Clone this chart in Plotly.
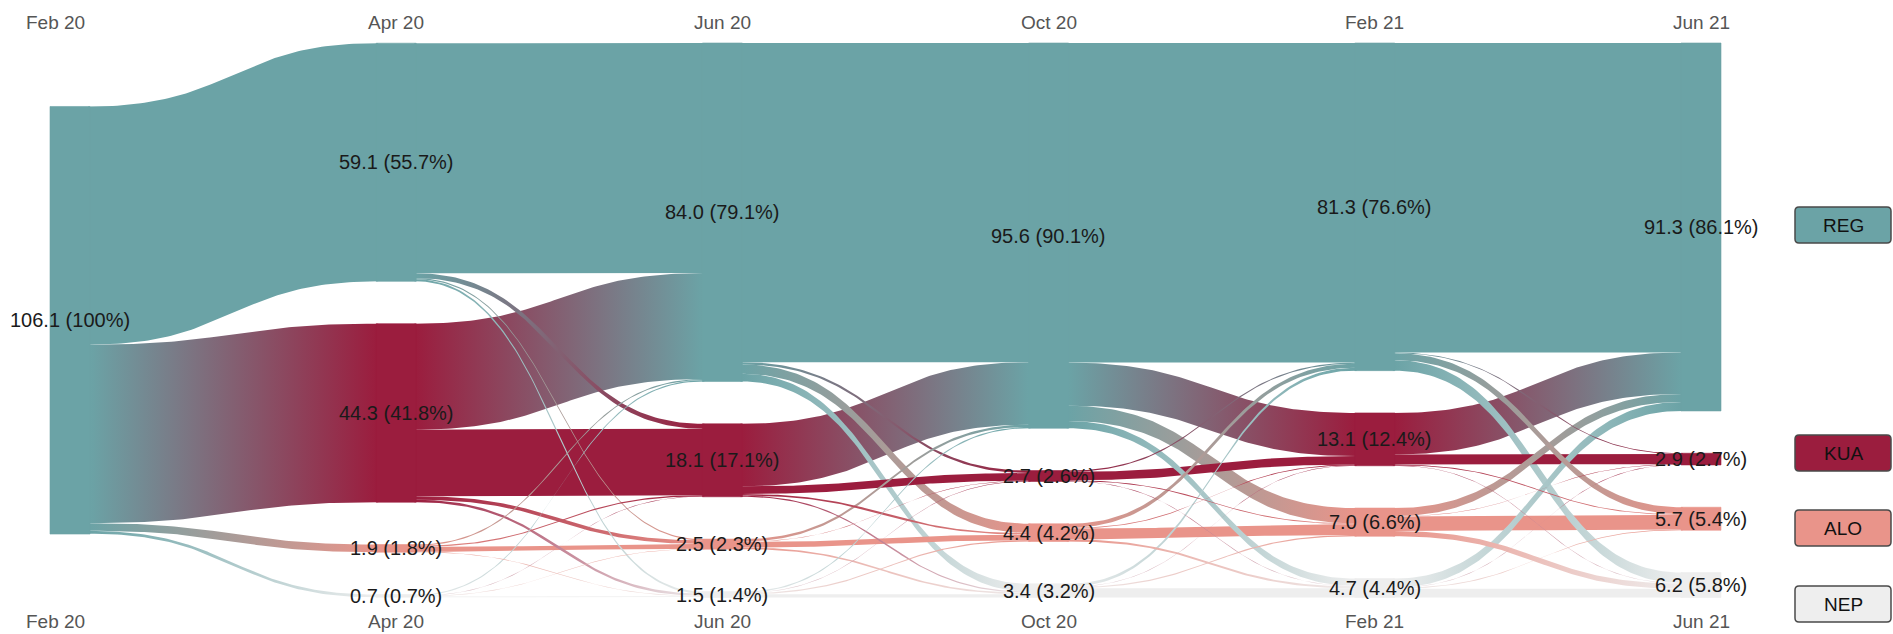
import plotly.graph_objects as go
import numpy as np

# ---------------- data ----------------
periods = ["Feb 20", "Apr 20", "Jun 20", "Oct 20", "Feb 21", "Jun 21"]
states = ["REG", "KUA", "ALO", "NEP"]
state_colors = ["#6BA3A6", "#9B1D3E", "#E9948A", "#EEEEEE"]

# node values per period (REG, KUA, ALO, NEP)
vals_feb20 = [106.1, 0.0, 0.0, 0.0]
vals_apr20 = [59.1, 44.3, 1.9, 0.7]
vals_jun20 = [84.0, 18.1, 2.5, 1.5]
vals_oct20 = [95.6, 2.7, 4.4, 3.4]
vals_feb21 = [81.3, 13.1, 7.0, 4.7]
vals_jun21 = [91.3, 2.9, 5.7, 6.2]

# percent labels per period
pct_feb20 = ["100", "", "", ""]
pct_apr20 = ["55.7", "41.8", "1.8", "0.7"]
pct_jun20 = ["79.1", "17.1", "2.3", "1.4"]
pct_oct20 = ["90.1", "2.6", "4.2", "3.2"]
pct_feb21 = ["76.6", "12.4", "6.6", "4.4"]
pct_jun21 = ["86.1", "2.7", "5.4", "5.8"]

# transitions: rows = source state, cols = target state (REG, KUA, ALO, NEP)
flow_feb20_apr20 = [[59.1, 44.3, 1.9, 0.7],
                    [0.0, 0.0, 0.0, 0.0],
                    [0.0, 0.0, 0.0, 0.0],
                    [0.0, 0.0, 0.0, 0.0]]
flow_apr20_jun20 = [[57.1, 1.2, 0.3, 0.5],
                    [26.3, 16.5, 0.9, 0.6],
                    [0.3, 0.3, 1.2, 0.1],
                    [0.3, 0.1, 0.1, 0.2]]
flow_jun20_oct20 = [[79.2, 0.6, 2.3, 1.9],
                    [15.5, 1.9, 0.4, 0.3],
                    [0.6, 0.1, 1.4, 0.4],
                    [0.3, 0.1, 0.3, 0.8]]
flow_oct20_feb21 = [[79.3, 10.7, 3.8, 1.8],
                    [0.3, 2.1, 0.2, 0.1],
                    [1.0, 0.2, 2.7, 0.5],
                    [0.7, 0.1, 0.3, 2.3]]
flow_feb21_jun21 = [[76.8, 0.2, 1.7, 2.6],
                    [10.3, 2.5, 0.2, 0.1],
                    [2.0, 0.1, 3.6, 1.3],
                    [2.2, 0.1, 0.2, 2.2]]

node_vals = [vals_feb20, vals_apr20, vals_jun20, vals_oct20, vals_feb21, vals_jun21]
node_pcts = [pct_feb20, pct_apr20, pct_jun20, pct_oct20, pct_feb21, pct_jun21]
flows = [flow_feb20_apr20, flow_apr20_jun20, flow_jun20_oct20, flow_oct20_feb21, flow_feb21_jun21]

# ---------------- layout constants (style) ----------------
W, H = 1893, 634
col_spacing_px = 326.2
first_col_px = 70
node_w_px = 40
top_px = 43
px_per_unit = 4.03
gap_units = 10.5

hw = node_w_px / 2 / col_spacing_px
eps = 2 / col_spacing_px
x_range = [-first_col_px / col_spacing_px, (W - first_col_px) / col_spacing_px]
y_range = [(H - top_px) / px_per_unit, -top_px / px_per_unit]  # reversed

n_states = len(states)
full_extent = max(sum(v) + gap_units * (sum(1 for a in v if a > 0) - 1) for v in node_vals)

# node positions
node_pos = []
for v in node_vals:
    present = [i for i in range(n_states) if v[i] > 0]
    ext = sum(v) + gap_units * (len(present) - 1)
    y = (full_extent - ext) / 2
    pos = [None] * n_states
    for i in present:
        pos[i] = [y, y + v[i]]
        y += v[i] + gap_units
    node_pos.append(pos)


def bez(a, b, m0, m1, t):
    return (1 - t) ** 3 * a + 3 * (1 - t) ** 2 * t * m0 + 3 * (1 - t) * t ** 2 * m1 + t ** 3 * b


fig = go.Figure()

# build flows
flow_shapes = []
for c, F in enumerate(flows):
    src_off = [node_pos[c][s][0] if node_pos[c][s] else 0 for s in range(n_states)]
    tgt_off = [node_pos[c + 1][t][0] if node_pos[c + 1][t] else 0 for t in range(n_states)]
    src_y = {}
    for s in range(n_states):
        for t in range(n_states):
            if F[s][t] > 0:
                src_y[(s, t)] = src_off[s]
                src_off[s] += F[s][t]
    tgt_y = {}
    for t in range(n_states):
        for s in range(n_states):
            if F[s][t] > 0:
                tgt_y[(s, t)] = tgt_off[t]
                tgt_off[t] += F[s][t]
    for (s, t), ys in src_y.items():
        flow_shapes.append((F[s][t], c, s, t, ys, tgt_y[(s, t)]))

flow_shapes.sort(key=lambda r: -r[0])
tt = np.linspace(0, 1, 90)
for val, c, s, t, ys, yt in flow_shapes:
    xs, xe = c + hw, c + 1 - hw
    xm = (xs + xe) / 2
    xc = np.concatenate([[xs - eps], bez(xs, xe, xm, xm, tt), [xe + eps]])
    top = np.concatenate([[ys], bez(ys, yt, ys, yt, tt), [yt]])
    bot = np.concatenate([[ys + val], bez(ys + val, yt + val, ys + val, yt + val, tt), [yt + val]])
    px = np.concatenate([xc, xc[::-1]])
    py = np.concatenate([top, bot[::-1]])
    tr = dict(x=px, y=py, mode="lines", fill="toself", line=dict(width=0),
              hoverinfo="skip", showlegend=False, fillcolor=state_colors[s])
    if s != t:
        tr["fillgradient"] = dict(type="horizontal",
                                  colorscale=[[0, state_colors[s]], [1, state_colors[t]]],
                                  start=xs, stop=xe)
    fig.add_trace(go.Scatter(**tr))

# nodes
for c, pos in enumerate(node_pos):
    for s in range(n_states):
        if pos[s] is None:
            continue
        y0, y1 = pos[s]
        fig.add_trace(go.Scatter(x=[c - hw, c + hw, c + hw, c - hw, c - hw],
                                 y=[y0, y0, y1, y1, y0], mode="lines", fill="toself",
                                 fillcolor=state_colors[s],
                                 line=dict(width=0.6, color=state_colors[s]),
                                 hoverinfo="skip", showlegend=False))

font_fam = "Liberation Sans Narrow, Liberation Sans, Arial, sans-serif"
annotations = []
for c, pos in enumerate(node_pos):
    for s in range(n_states):
        if pos[s] is None:
            continue
        txt = f"{node_vals[c][s]:.1f} ({node_pcts[c][s]}%)"
        annotations.append(dict(x=c, y=(pos[s][0] + pos[s][1]) / 2, xref="x", yref="y",
                                xanchor="center", yanchor="middle",
                                text=txt, showarrow=False,
                                font=dict(family=font_fam, size=20, color="#1a1a1a")))
    for yp in (1 - 23 / H, 1 - 621 / H):
        xlab = c - (0.043 if c == 0 else 0)
        annotations.append(dict(x=xlab, y=yp, xref="x", yref="paper", text=periods[c],
                                xanchor="center", yanchor="middle",
                                showarrow=False,
                                font=dict(family=font_fam, size=19, color="#555555")))

# legend: rounded boxes (pixel geometry converted to paper units)
legend_y_px = [225, 453, 528, 604]
box_cx_px, box_w_px, box_h_px, r_px = 1843, 96, 36, 4
shapes = []
for s in range(n_states):
    x0, x1 = box_cx_px - box_w_px / 2, box_cx_px + box_w_px / 2
    y0, y1 = legend_y_px[s] - box_h_px / 2, legend_y_px[s] + box_h_px / 2

    def P(xp, yp):
        return f"{xp / W:.5f},{1 - yp / H:.5f}"

    path = (f"M {P(x0 + r_px, y0)} L {P(x1 - r_px, y0)} Q {P(x1, y0)} {P(x1, y0 + r_px)} "
            f"L {P(x1, y1 - r_px)} Q {P(x1, y1)} {P(x1 - r_px, y1)} "
            f"L {P(x0 + r_px, y1)} Q {P(x0, y1)} {P(x0, y1 - r_px)} "
            f"L {P(x0, y0 + r_px)} Q {P(x0, y0)} {P(x0 + r_px, y0)} Z")
    shapes.append(dict(type="path", path=path, xref="paper", yref="paper",
                       fillcolor=state_colors[s], line=dict(color="#4a4a4a", width=1.5),
                       layer="above"))
    annotations.append(dict(x=box_cx_px / W, y=1 - legend_y_px[s] / H, xref="paper", yref="paper",
                            xanchor="center", yanchor="middle",
                            text=states[s], showarrow=False,
                            font=dict(family=font_fam, size=19, color="#111111")))

fig.update_layout(
    width=W, height=H,
    margin=dict(l=0, r=0, t=0, b=0),
    paper_bgcolor="white", plot_bgcolor="white",
    xaxis=dict(range=x_range, visible=False, fixedrange=True),
    yaxis=dict(range=y_range, visible=False, fixedrange=True),
    annotations=annotations,
    shapes=shapes,
    showlegend=False,
)

fig.write_html("out.html", config={"displayModeBar": False},
               post_script="document.body.style.margin='0';")
